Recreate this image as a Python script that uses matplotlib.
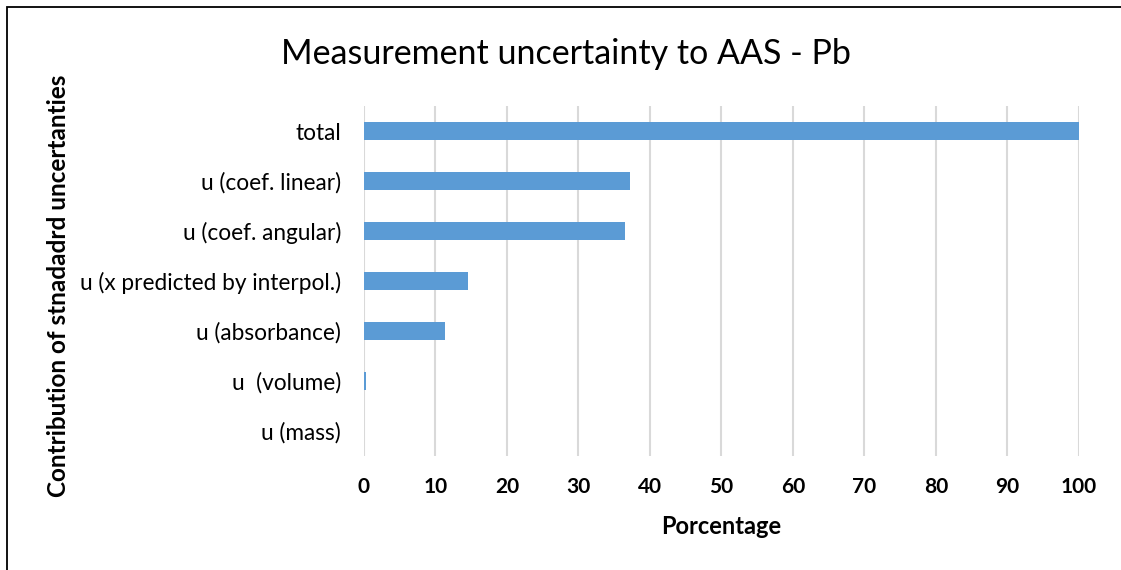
import matplotlib.pyplot as plt
from matplotlib.patches import Rectangle

categories = ["u (mass)", "u  (volume)", "u (absorbance)",
              "u (x predicted by interpol.)", "u (coef. angular)",
              "u (coef. linear)", "total"]
percentages = [0.02, 0.25, 11.4, 14.6, 36.5, 37.2, 100.0]
xticks = list(range(0, 101, 10))

plt.rcParams['font.family'] = ['Lato', 'DejaVu Sans']

fig = plt.figure(figsize=(11.21, 5.70), dpi=100)
ax = fig.add_axes([0.3247, 0.2, 0.9625 - 0.3247, 0.614])

ax.barh(range(len(categories)), percentages, height=0.36, color="#5b9bd5", zorder=3)
ax.set_xlim(0, 100)
ax.set_ylim(-0.5, len(categories) - 0.5)
ax.set_yticks(range(len(categories)))
ax.set_yticklabels(categories, fontsize=16.3)
ax.set_xticks(xticks)
ax.set_xticklabels([str(t) for t in xticks], fontsize=15, fontweight="bold")
ax.tick_params(length=0)
ax.tick_params(axis="x", pad=15)
ax.tick_params(axis="y", pad=16.5)
ax.grid(axis="x", color="#d9d9d9", linewidth=1.5, zorder=0)
for s in ax.spines.values():
    s.set_visible(False)

ax.set_xlabel("Porcentage", fontsize=17, fontweight="bold", va="center")
ax.xaxis.set_label_coords(0.5, -(527 - 456) / 350)
fig.text(0.052, 0.498, "Contribution of stnadadrd uncertanties", rotation=90,
         fontsize=17.5, fontweight="bold", ha="center", va="center")
fig.text(0.505, 0.905, "Measurement uncertainty to AAS - Pb", fontsize=24.5,
         ha="center", va="center")

# outer frame, cut off at the right and bottom like the original screenshot
fig.patches.append(Rectangle((0.0062, -0.05), 1.1, 0.05 + 0.988, transform=fig.transFigure,
                             fill=False, edgecolor="black", linewidth=1.3))

fig.savefig("out.png", dpi=100)
